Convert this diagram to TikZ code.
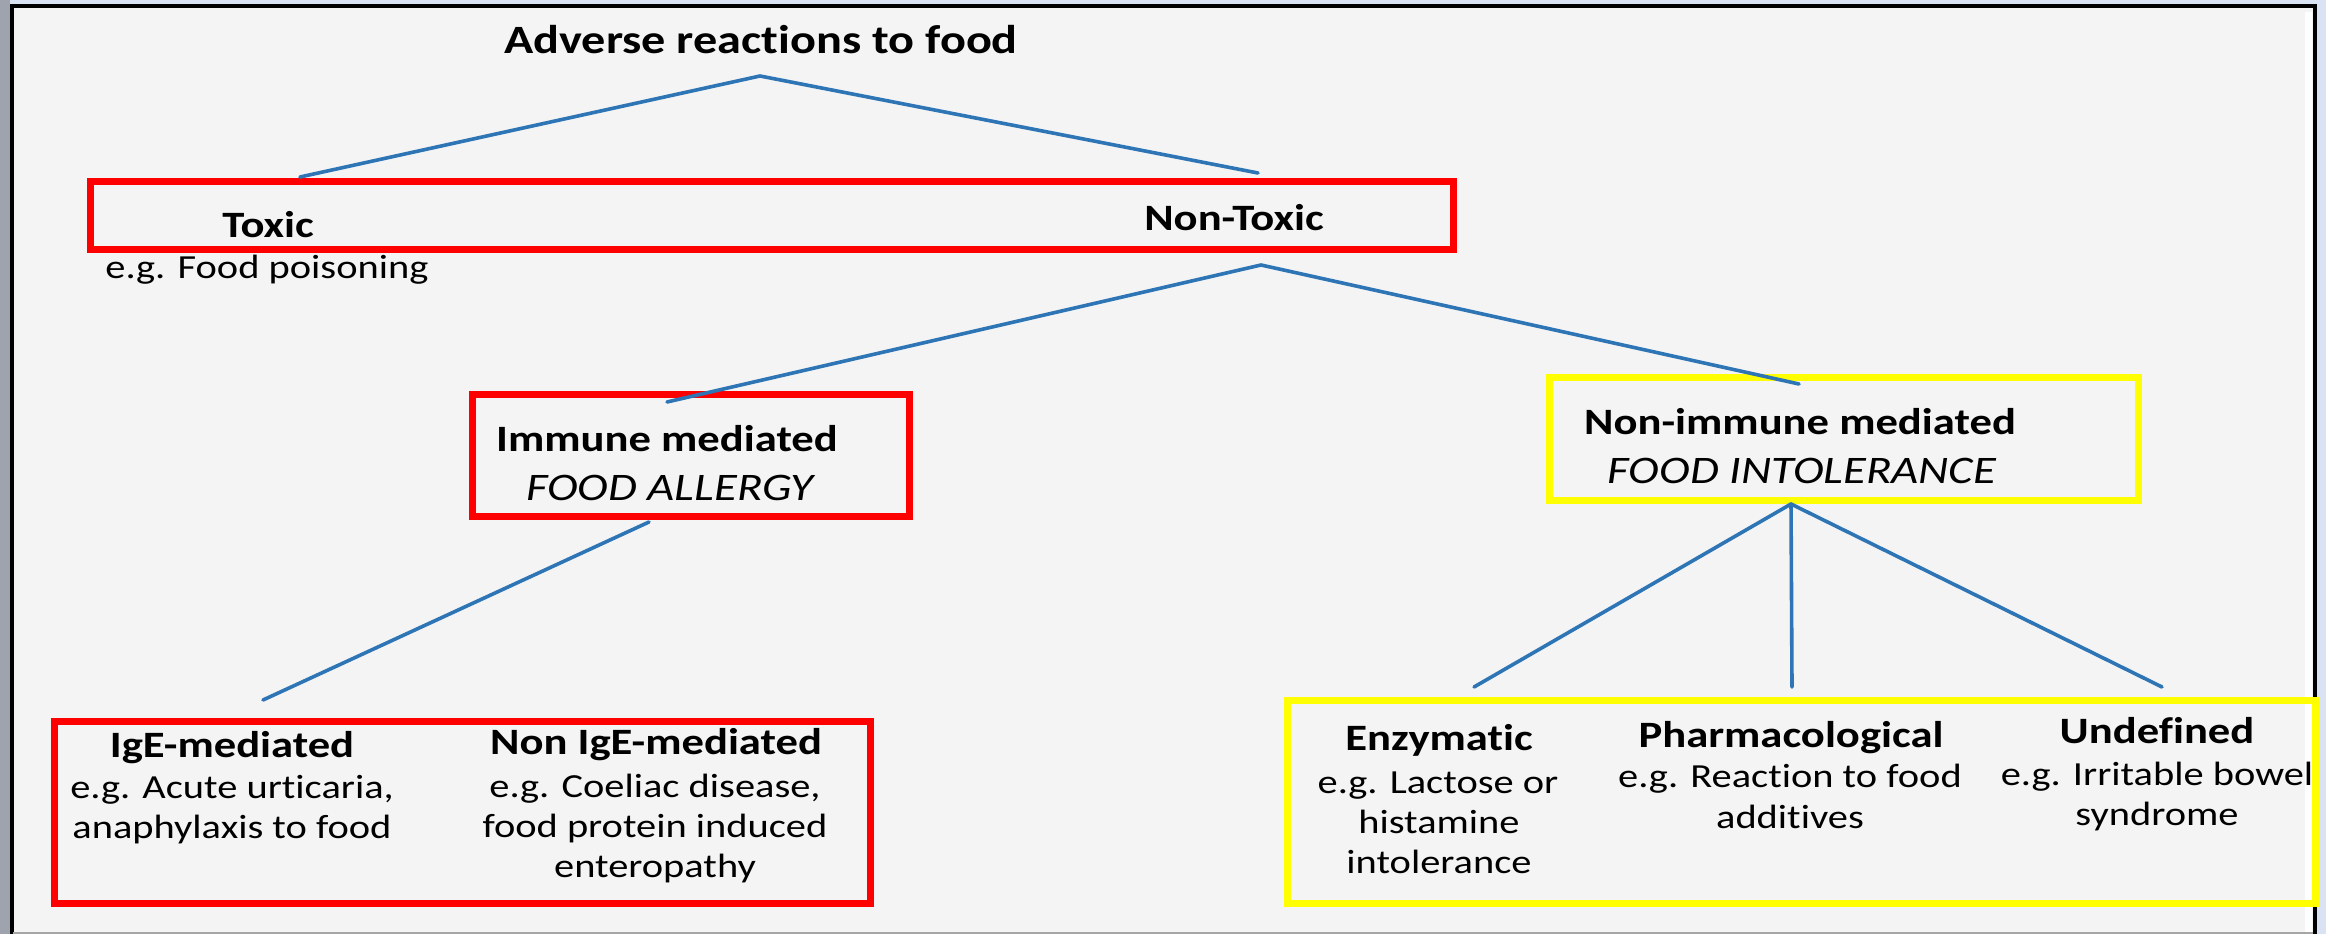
\documentclass[tikz,border=0pt]{standalone}
\usepackage{fontspec}
\setmainfont{Carlito}[FakeStretch=1.2, Ligatures={NoCommon}]
\definecolor{outerbg}{HTML}{DAE3F3}
\definecolor{leftbar}{HTML}{9EA3AD}
\definecolor{panel}{HTML}{F4F4F4}
\definecolor{lineblue}{HTML}{2E75B6}
\definecolor{boxred}{HTML}{FF0000}
\definecolor{boxyellow}{HTML}{FFFF00}
\tikzset{
  conn/.style={draw=lineblue, line width=3.6pt, line cap=round},
  redbox/.style={draw=boxred, line width=7pt, inner sep=0pt, outer sep=0pt},
  yelbox/.style={draw=boxyellow, line width=7pt, inner sep=0pt, outer sep=0pt},
  ttl/.style={font=\fontsize{40.2}{48}\selectfont\bfseries, anchor=base, inner sep=0pt},
  hd/.style={font=\fontsize{37.2}{44}\selectfont\bfseries, anchor=base, inner sep=0pt},
  tx/.style={font=\fontsize{33.7}{40}\selectfont, anchor=base, inner sep=0pt},
  itx/.style={font=\fontsize{39}{46}\selectfont\itshape, anchor=base, inner sep=0pt}
}
\begin{document}
\begin{tikzpicture}[x=1pt, y=-1pt]
\useasboundingbox (0,0) rectangle (2326,934);
% background and frame
\fill[outerbg] (0,0) rectangle (2326,934);
\fill[leftbar] (0,0) rectangle (10,934);
\fill[panel] (11,6) rectangle (2315,934);
\draw[black, line width=4pt] (11.5,934) -- (11.5,6.5) -- (2315,6.5) -- (2315,934);
\fill[white] (2305,12) rectangle (2312,934);
\draw[gray!70, line width=2pt] (13,933) -- (2313,933);

% title
\node[ttl] (title) at (761,53) {Adverse reactions to food};

% level 1 box
\node[redbox, minimum width=1363pt, minimum height=68pt] (box1) at (771.5,215) {};
\node[hd] (toxic) at (268,237) {Toxic};
\node[tx] (toxicex) at (267,278) {e.g. Food poisoning};
\node[hd] (nontoxic) at (1234,230) {Non-Toxic};

% level 2 boxes
\node[redbox, minimum width=437pt, minimum height=122pt] (immbox) at (690.5,455) {};
\node[hd] (imm) at (667,451) {Immune mediated};
\node[itx] (allergy) at (670,500) {FOOD ALLERGY};

\node[yelbox, minimum width=589pt, minimum height=123pt] (nimbox) at (1843.5,438.5) {};
\node[hd] (nim) at (1800,434) {Non-immune mediated};
\node[itx] (intol) at (1802,483) {FOOD INTOLERANCE};

% level 3 boxes
\node[redbox, minimum width=816pt, minimum height=182pt] (igebox) at (462,812) {};
\node[hd] (ige) at (232,757) {IgE-mediated};
\node[tx] (igea) at (232,798) {e.g. Acute urticaria,};
\node[tx] (igeb) at (232,838) {anaphylaxis to food};
\node[hd] (nige) at (656,754) {Non IgE-mediated};
\node[tx] (nigea) at (655,797) {e.g. Coeliac disease,};
\node[tx] (nigeb) at (655,837) {food protein induced};
\node[tx] (nigec) at (655,877) {enteropathy};

\node[yelbox, minimum width=1028pt, minimum height=203pt] (ybox) at (1801,801.5) {};
\node[hd] (enz) at (1439,750) {Enzymatic};
\node[tx] (enza) at (1438,793) {e.g. Lactose or};
\node[tx] (enzb) at (1439,833) {histamine};
\node[tx] (enzc) at (1439,873) {intolerance};
\node[hd] (pha) at (1791,747) {Pharmacological};
\node[tx] (phaa) at (1790,787) {e.g. Reaction to food};
\node[tx] (phab) at (1790,828) {additives};
\node[hd] (und) at (2157,743) {Undefined};
\node[tx] (unda) at (2157,785) {e.g. Irritable bowel};
\node[tx] (undb) at (2157,825) {syndrome};

% connector end points
\coordinate (ap0) at (760,76);
\coordinate (toxtop) at (300,177);
\coordinate (ntoxtop) at (1258,173);
\coordinate (ap1) at (1261,265);
\coordinate (immtop) at (667,402);
\coordinate (nimtop) at (1799,384);
\coordinate (immbot) at (649,522);
\coordinate (igetop) at (263,700);
\coordinate (ap2) at (1791,504);
\coordinate (enztop) at (1474,687);
\coordinate (phatop) at (1792,687);
\coordinate (undtop) at (2162,687);

\draw[conn] (toxtop) -- (ap0) -- (ntoxtop);
\draw[conn] (immtop) -- (ap1) -- (nimtop);
\draw[conn] (immbot) -- (igetop);
\draw[conn] (ap2) -- (enztop);
\draw[conn] (ap2) -- (phatop);
\draw[conn] (ap2) -- (undtop);
\end{tikzpicture}
\end{document}
